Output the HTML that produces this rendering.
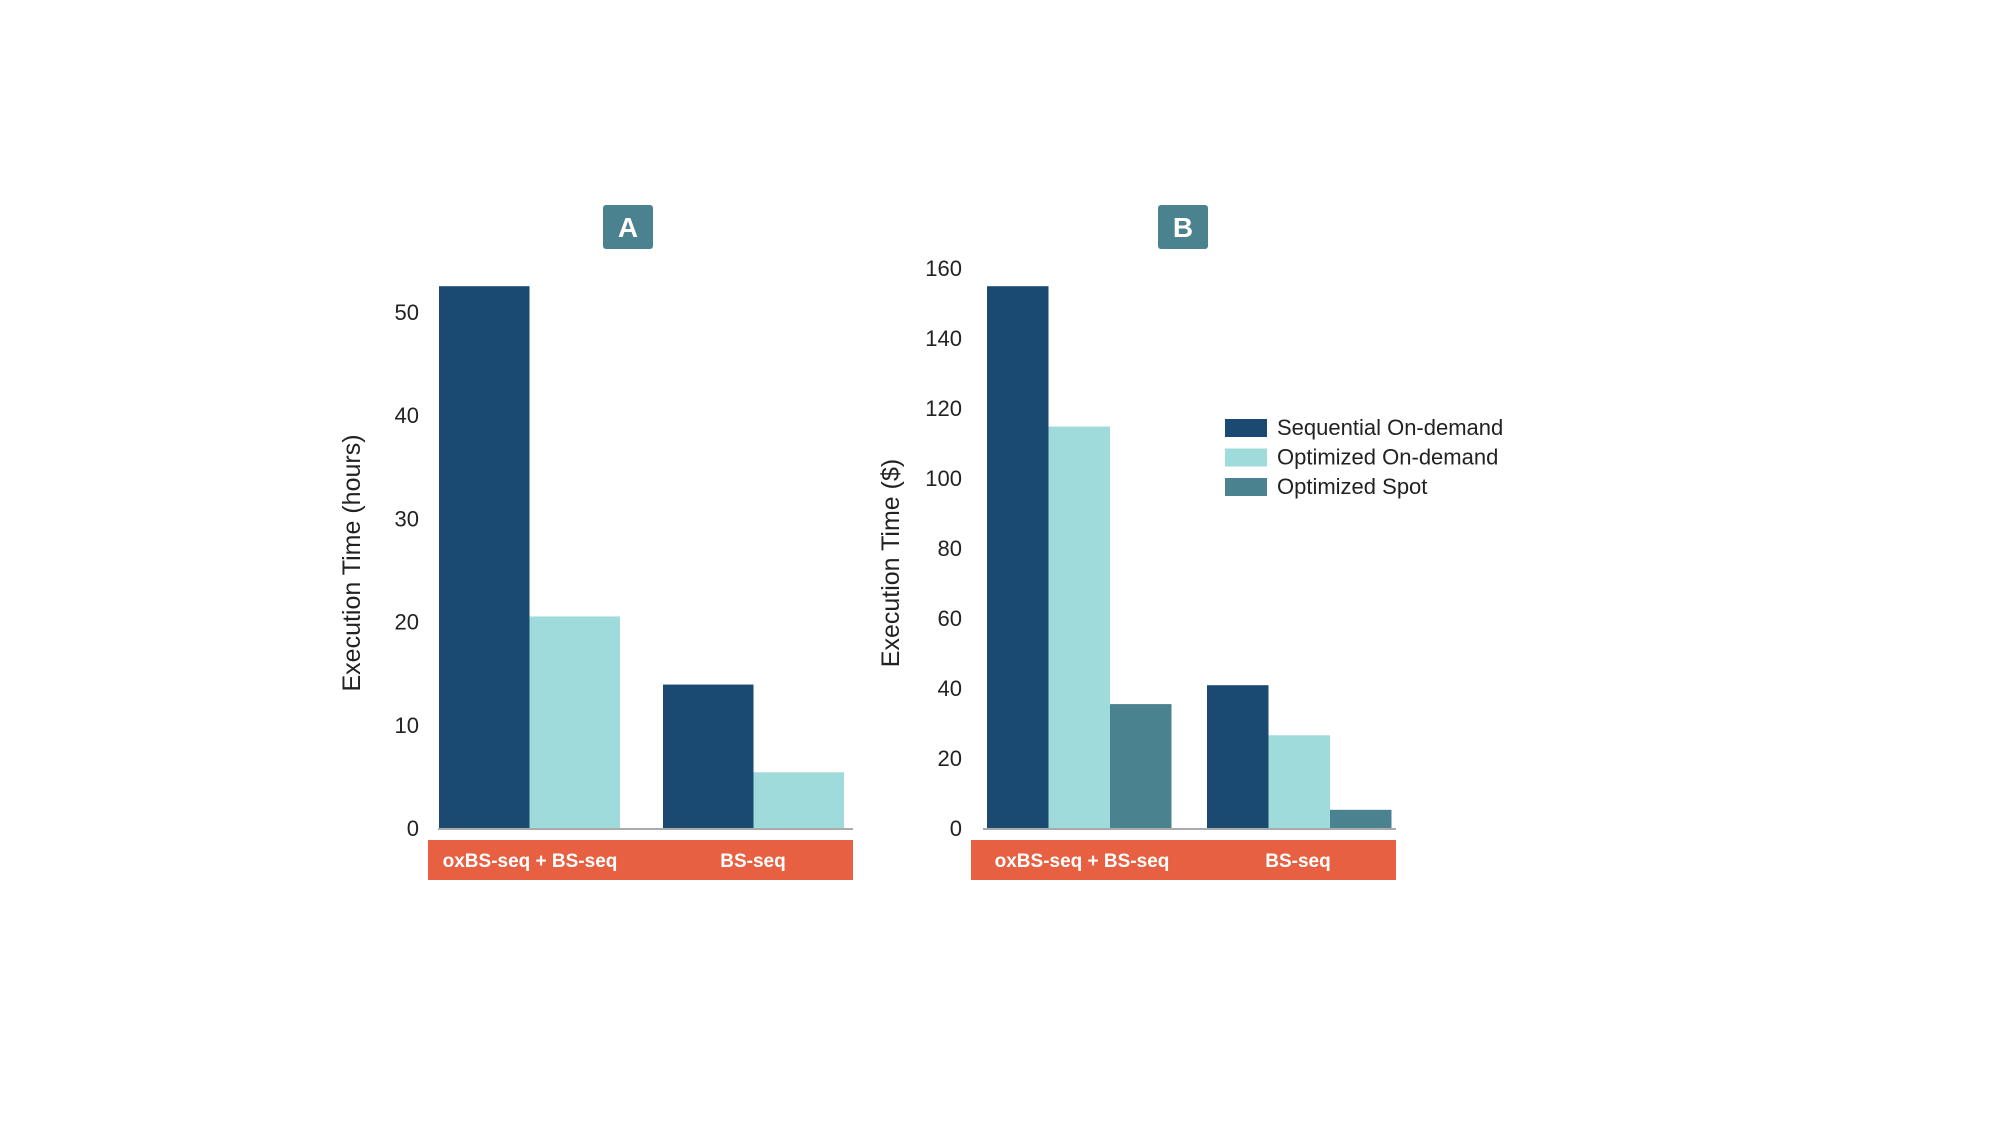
<!DOCTYPE html>
<html><head><meta charset="utf-8"><style>
html,body{margin:0;padding:0;background:#fff;}
svg{display:block;font-family:"Liberation Sans",sans-serif;}
</style></head><body>
<svg id="chart" width="2000" height="1125" viewBox="0 0 2000 1125">
<g id="pa"></g>
<g id="pb"></g>
<g id="legend"></g>
</svg>
<script>
const categories = ["oxBS-seq + BS-seq", "BS-seq"];
const seriesNames = ["Sequential On-demand", "Optimized On-demand", "Optimized Spot"];
const hoursSequential = [52.5, 13.9];
const hoursOptimized = [20.5, 5.4];
const costSequential = [154.8, 40.8];
const costOptimized = [114.7, 26.5];
const costSpot = [35.4, 5.2];
const ticksA = [0, 10, 20, 30, 40, 50];
const ticksB = [0, 20, 40, 60, 80, 100, 120, 140, 160];
const colors = ["#1a4a72", "#a0dbdb", "#4b8290"];
const NS = "http://www.w3.org/2000/svg";
function mk(parent, tag, attrs, text){
  const e = document.createElementNS(NS, tag);
  for (const k in attrs) e.setAttribute(k, attrs[k]);
  if (text !== undefined) e.textContent = text;
  parent.appendChild(e); return e;
}
function panel(g, cfg){
  const y = v => cfg.y0 - (v - 0) * cfg.ppu;
  // badge
  const b = mk(g, "rect", {x: cfg.badgeX, y: 205, width: 50, height: 44, rx: 3, fill: "#4b8290"});
  
  
  const bt = mk(g, "text", {x: cfg.badgeX + 25, y: 237, "text-anchor": "middle", "font-size": 28, "font-weight": "bold", fill: "#fff"}, cfg.label);
  
  
  // ticks
  cfg.ticks.forEach(t => {
    const tl = mk(g, "text", {x: cfg.tickX, y: y(t) + 8, "text-anchor": "end", "font-size": 22, fill: "#222"}, t);
    
    
  });
  // y title
  const yt = mk(g, "text", {x: 0, y: 0, transform: `translate(${cfg.titleX},563) rotate(-90)`, "text-anchor": "middle", "font-size": 25, fill: "#222"}, cfg.title);
  
  
  // bars
  const nS = cfg.series.length;
  categories.forEach((c, ci) => {
    cfg.series.forEach((s, si) => {
      const x = cfg.groupX[ci] + si * cfg.barW;
      const r = mk(g, "rect", {x: x, y: y(s[ci]), width: cfg.barW, height: y(0) - y(s[ci]), fill: colors[si]});
      
      
    });
  });
  const ax = mk(g, "line", {x1: cfg.axisX1, x2: cfg.axisX2, y1: cfg.y0 + 1, y2: cfg.y0 + 1, stroke: "#aaa", "stroke-width": 2});
  
  
  const strip = mk(g, "rect", {x: cfg.stripX, y: 840, width: cfg.stripW, height: 40, fill: "#e86042"});
  
  
  categories.forEach((c, ci) => {
    const t = mk(g, "text", {x: cfg.catX[ci], y: 867, "text-anchor": "middle", "font-size": 19, "font-weight": "bold", fill: "#fff"}, c);
    
    
  });
}
panel(document.getElementById("pa"), {
  label: "A", badgeX: 603, y0: 828, ppu: (828 - 312) / 50, ticks: ticksA, tickX: 419,
  title: "Execution Time (hours)", titleX: 360, series: [hoursSequential, hoursOptimized],
  groupX: [439, 663], barW: 90.5, axisX1: 438, axisX2: 853, stripX: 428, stripW: 425, catX: [530, 753]
});
panel(document.getElementById("pb"), {
  label: "B", badgeX: 1158, y0: 828, ppu: (828 - 268) / 160, ticks: ticksB, tickX: 962,
  title: "Execution Time ($)", titleX: 899, series: [costSequential, costOptimized, costSpot],
  groupX: [987, 1207], barW: 61.5, axisX1: 983, axisX2: 1396, stripX: 971, stripW: 425, catX: [1082, 1298]
});
const lg = document.getElementById("legend");
seriesNames.forEach((n, i) => {
  const r = mk(lg, "rect", {x: 1225, y: 419 + i * 29.5, width: 42, height: 18, fill: colors[i]});
  
  
  const t = mk(lg, "text", {x: 1277, y: 435 + i * 29.5, "font-size": 22, fill: "#222"}, n);
  
  
});
</script>
</body></html>
